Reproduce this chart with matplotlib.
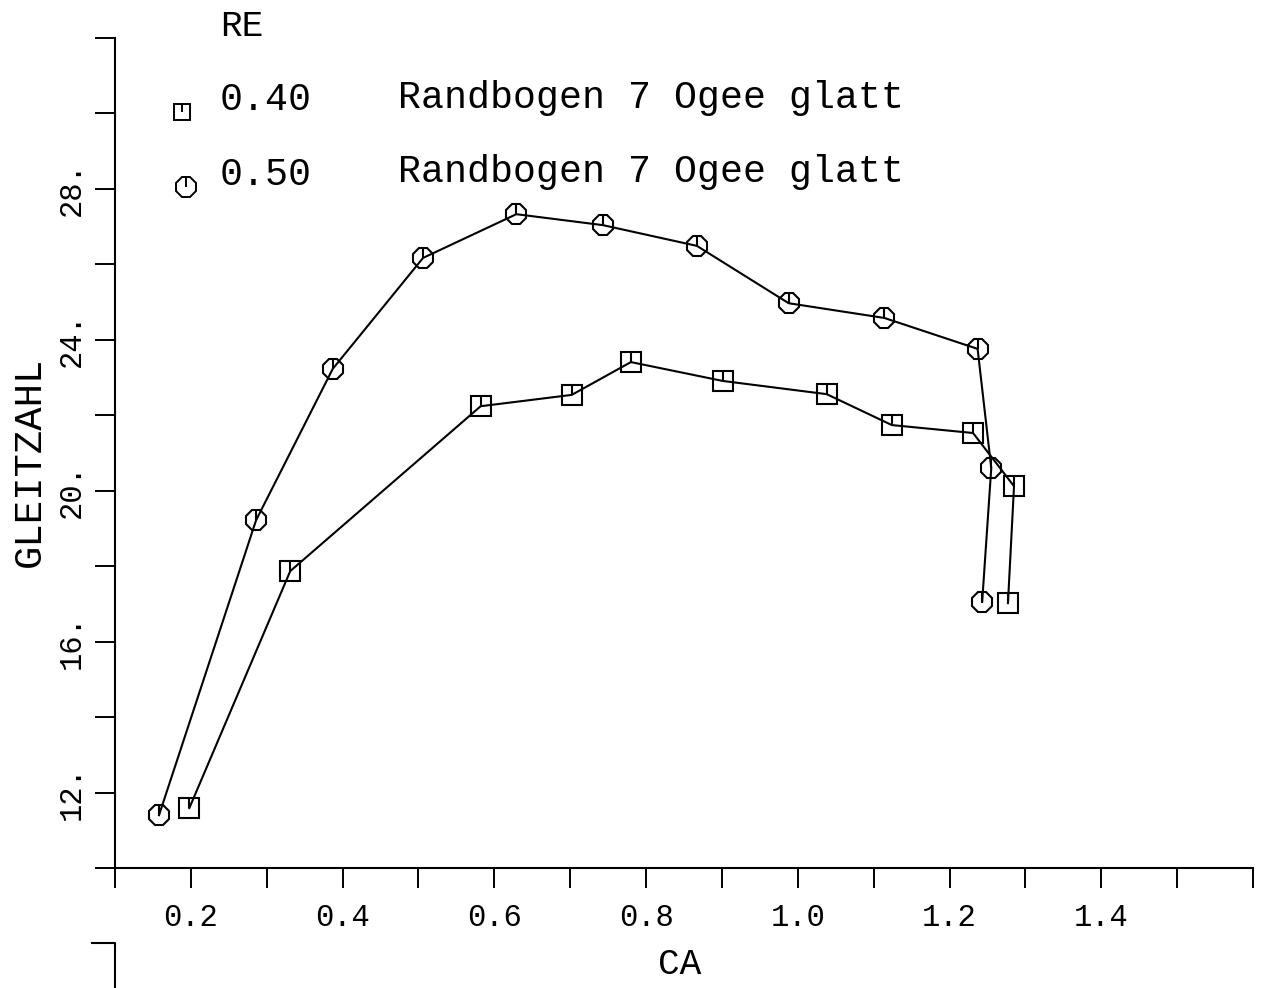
import matplotlib.pyplot as plt
from matplotlib.lines import Line2D
from matplotlib.path import Path

# Gleitzahl over CA, Randbogen 7 Ogee glatt
ca_040 = [0.198, 0.331, 0.582, 0.702, 0.780, 0.901, 1.038, 1.124, 1.231, 1.285, 1.277]
gz_040 = [11.59, 17.87, 22.24, 22.54, 23.41, 22.91, 22.56, 21.74, 21.53, 20.12, 17.02]

ca_050 = [0.158, 0.286, 0.387, 0.506, 0.629, 0.743, 0.867, 0.988, 1.114, 1.237, 1.255, 1.243]
gz_050 = [11.40, 19.22, 23.23, 26.17, 27.33, 27.04, 26.49, 24.97, 24.58, 23.76, 20.60, 17.05]

x_ticks = [0.1, 0.2, 0.3, 0.4, 0.5, 0.6, 0.7, 0.8, 0.9, 1.0, 1.1, 1.2, 1.3, 1.4, 1.5, 1.6]
x_tick_labels = ['', '0.2', '', '0.4', '', '0.6', '', '0.8', '', '1.0', '', '1.2', '', '1.4', '', '']
y_ticks = [10, 12, 14, 16, 18, 20, 22, 24, 26, 28, 30, 32]
y_tick_labels = ['', '12.', '', '16.', '', '20.', '', '24.', '', '28.', '', '']

legend_re = ['0.40', '0.50']
legend_text = 'Randbogen 7 Ogee glatt'

plt.rcParams['font.family'] = ['Liberation Mono', 'DejaVu Sans Mono']

W, H = 1263, 988


def fx(px):
    return px / W


def fy(py):
    return 1 - py / H


fig = plt.figure(figsize=(12.63, 9.88), dpi=100)
ax = fig.add_axes([fx(115), fy(868), fx(1253) - fx(115), fy(38) - fy(868)])

# plotter style symbol: short stroke from the centre upwards
tick = Path([(0, 0), (0, 1)])

lw = 1.5
ax.plot(ca_040, gz_040, color='k', lw=lw, marker='s', ms=14.2,
        mfc='none', mec='k', mew=lw)
ax.plot(ca_040, gz_040, ls='none', marker=tick, ms=14.2, mec='k', mew=lw)
ax.plot(ca_050, gz_050, color='k', lw=lw, marker='8', ms=16.2,
        mfc='none', mec='k', mew=lw)
ax.plot(ca_050, gz_050, ls='none', marker=tick, ms=15, mec='k', mew=lw)

ax.set_xlim(0.1, 1.6)
ax.set_ylim(10, 32)
ax.spines['top'].set_visible(False)
ax.spines['right'].set_visible(False)
ax.spines['left'].set_linewidth(1.5)
ax.spines['bottom'].set_linewidth(1.5)

ax.set_xticks(x_ticks)
ax.set_xticklabels(x_tick_labels)
ax.set_yticks(y_ticks)
ax.set_yticklabels(y_tick_labels)
ax.tick_params(axis='x', direction='out', length=14.4, width=1.4, pad=11, labelsize=22)
ax.tick_params(axis='y', direction='out', length=14.4, width=1.4, pad=6, labelsize=22)
for lab in ax.get_yticklabels():
    lab.set_rotation(90)
    lab.set_va('center')

# axis titles
fig.text(fx(680), fy(964), 'CA', fontsize=26, ha='center', va='center')
fig.text(fx(30), fy(462), 'GLEITZAHL', fontsize=28, rotation=90,
         ha='center', va='center')

# legend block
fig.text(fx(220), fy(36), 'RE', fontsize=26, ha='left', va='baseline')
fig.text(fx(220), fy(110), legend_re[0], fontsize=27.5, ha='left', va='baseline')
fig.text(fx(220), fy(185), legend_re[1], fontsize=27.5, ha='left', va='baseline')
fig.text(fx(398), fy(108), legend_text, fontsize=27.5, ha='left', va='baseline')
fig.text(fx(398), fy(182), legend_text, fontsize=27.5, ha='left', va='baseline')

for px, py, mk, ms in [(182, 112, 's', 11.5), (186, 187, '8', 15)]:
    fig.add_artist(Line2D([fx(px)], [fy(py)], marker=mk, ms=ms, mfc='none',
                          mec='k', mew=1.4, transform=fig.transFigure))
    fig.add_artist(Line2D([fx(px)], [fy(py)], marker=tick, ms=ms, mec='k',
                          mew=1.4, transform=fig.transFigure))

# top tick of the axis of the plot below
fig.add_artist(Line2D([fx(92), fx(115), fx(115)], [fy(943), fy(943), 0],
                      color='k', lw=1.5, transform=fig.transFigure))

fig.savefig('out.png', dpi=100)
